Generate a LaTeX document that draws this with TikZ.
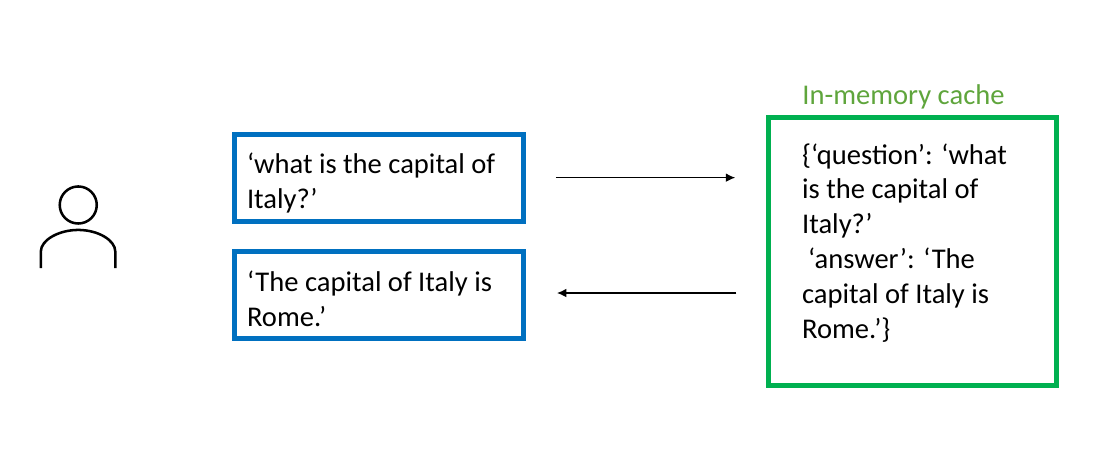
\documentclass[tikz,border=0pt]{standalone}
\usepackage{fontspec}
\setmainfont{Carlito}
\usepackage{xcolor}
\usetikzlibrary{positioning, arrows.meta}

\definecolor{boxblue}{HTML}{0070C0}
\definecolor{cachegreen}{HTML}{00B050}
\definecolor{labelgreen}{HTML}{5FA53C}

\begin{document}
\begin{tikzpicture}[
    msg/.style={
        draw=boxblue, line width=3.75pt, minimum width=7.64cm, minimum height=2.3cm,
        inner xsep=0.30cm, text width=6.99cm, align=flush left,
        font=\fontsize{21.5}{26.25}\selectfont
    },
    cache/.style={
        draw=cachegreen, line width=3.75pt, minimum width=7.62cm, minimum height=7.09cm,
        inner xsep=0.86cm, text width=5.85cm, align=flush left,
        font=\fontsize{21.5}{26.25}\selectfont
    },
    arr/.style={-{Latex[length=7pt,width=6.5pt]}, line width=0.9pt},
    person/.style={line width=1.9pt}
]
\useasboundingbox (0,0) rectangle (29.1,11.853);

% --- User icon ---
\node[draw, circle, person, minimum size=0.98cm] (head) at (2.07,6.43) {};
\draw[person] (1.08,4.76) -- (1.08,5.2)
    .. controls (1.08,5.5) and (1.55,5.77) .. (2.07,5.77)
    .. controls (2.59,5.77) and (3.05,5.5) .. (3.05,5.2) -- (3.05,4.76);

% --- Messages ---
\node[msg] (question) at (10.03,7.143) {\rule{0pt}{23pt}‘what is the capital of\\Italy?’};
\node[msg, below=0.66cm of question] (answer) {\rule{0pt}{21pt}‘The capital of Italy is\\Rome.’};

% --- Cache ---
\node[cache] (store) at (24.145,5.198) {\{‘question’: ‘what\\is the capital of\\Italy?’\\
    \hspace*{0.16cm}‘answer’: ‘The\\capital of Italy is\\Rome.’\}\rule[-16pt]{0pt}{0pt}};
\node[font=\fontsize{21.5}{24}\selectfont, text=labelgreen, inner sep=0pt, above=0.16cm of store.north west,
      anchor=south west, xshift=0.95cm] (title) {In-memory cache};

% --- Arrows ---
\draw[arr, shorten <=0.79cm, shorten >=0.82cm] ([yshift=0.01cm]question.east) -- ([yshift=0.01cm]question.east -| store.west);
\draw[arr, shorten <=0.79cm, shorten >=0.82cm] ([yshift=0.05cm]store.west |- answer.east) -- ([yshift=0.05cm]answer.east);
\end{tikzpicture}
\end{document}
